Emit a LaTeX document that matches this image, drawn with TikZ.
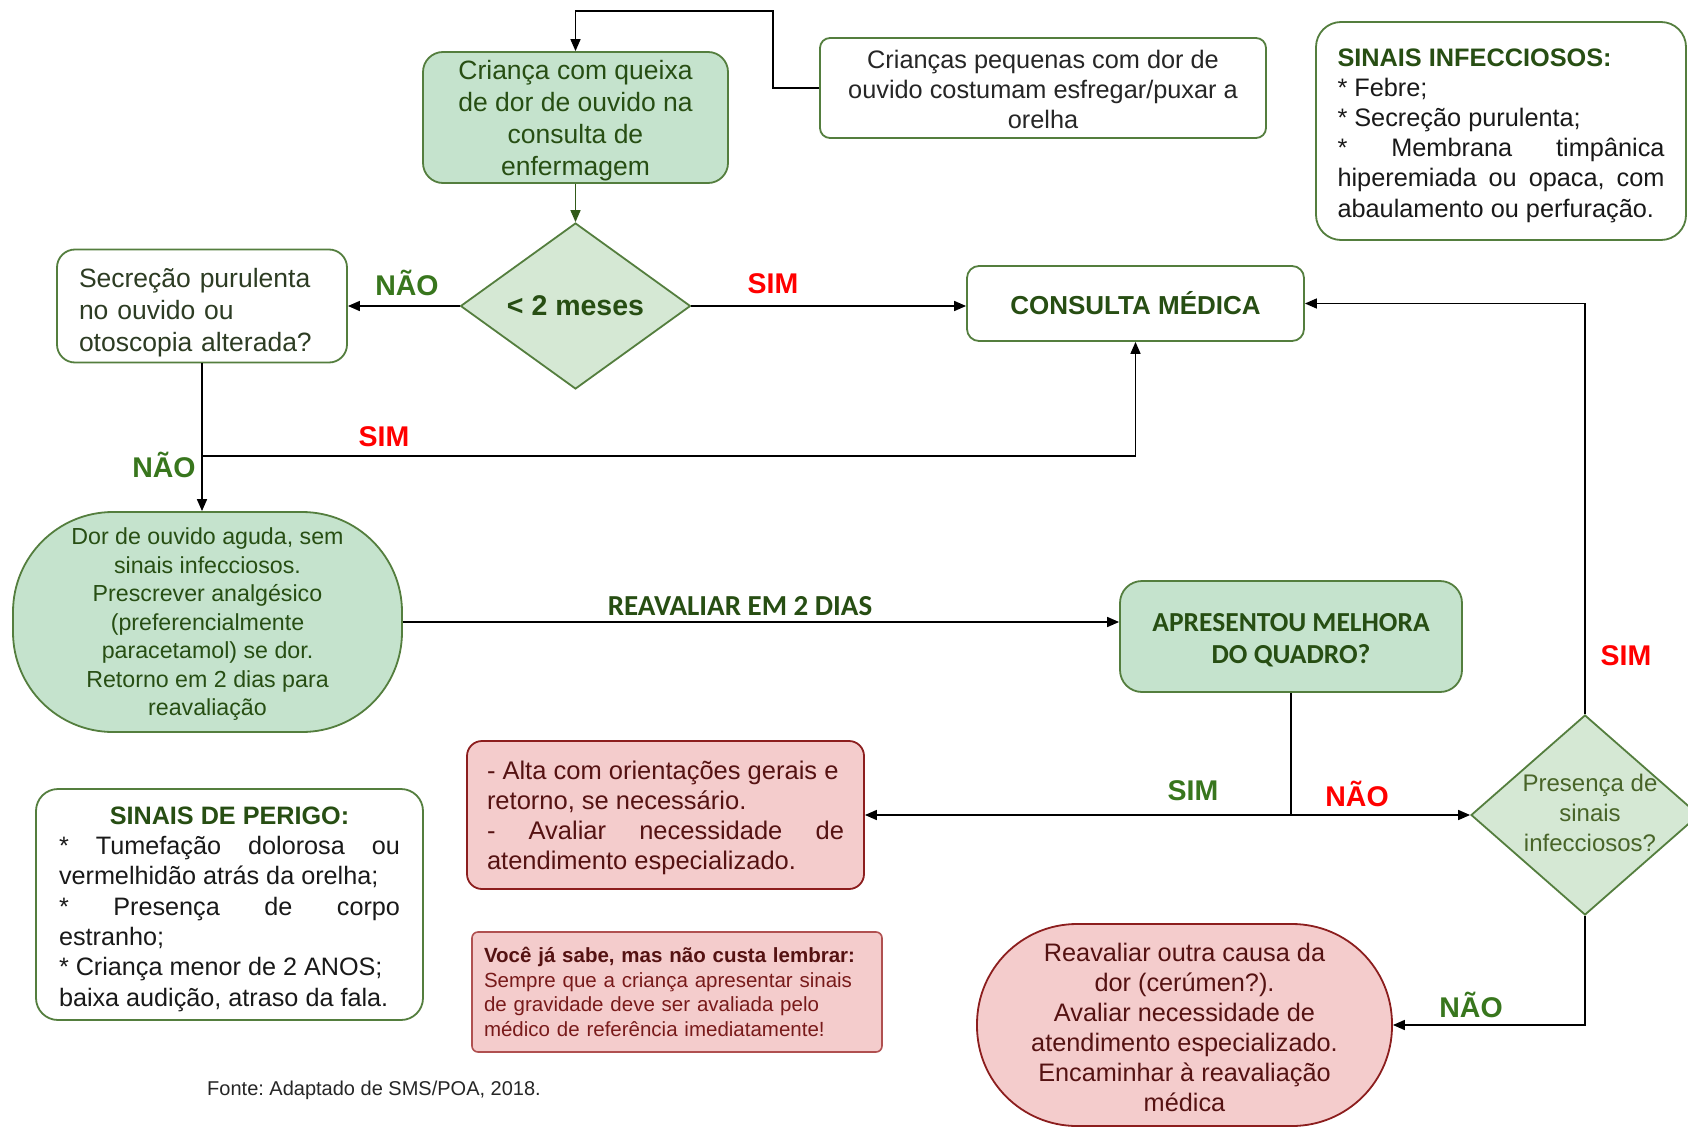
\documentclass[tikz,border=0pt]{standalone}
\usepackage{fontspec}
\setmainfont{Liberation Sans}
\newfontfamily\calibfont{Carlito}
\usetikzlibrary{arrows.meta,shapes.geometric}

\setlength\parindent{0pt}
\hyphenpenalty=10000
\exhyphenpenalty=10000
\tolerance=10000
\hbadness=10000
\frenchspacing

\definecolor{gfill}{RGB}{197,227,205}
\definecolor{gfillL}{RGB}{213,232,212}
\definecolor{gline}{RGB}{84,126,62}
\definecolor{gtext}{RGB}{39,78,19}
\definecolor{garrow}{RGB}{50,90,25}
\definecolor{glabel}{RGB}{56,118,29}
\definecolor{stext}{RGB}{45,60,35}
\definecolor{otext}{RGB}{72,100,40}
\definecolor{pfill}{RGB}{244,204,204}
\definecolor{pline}{RGB}{140,30,30}
\definecolor{pline2}{RGB}{176,80,80}
\definecolor{ptext}{RGB}{85,18,18}
\definecolor{ptext2}{RGB}{120,26,26}
\definecolor{sred}{RGB}{255,0,0}

\newcommand\fsz[2]{\fontsize{#1}{#2}\selectfont}
% invisible strut that lowers a multi-line block a little
\newcommand\dropblk[1]{\rule{0pt}{#1pt}}

\begin{document}
\begin{tikzpicture}[x=1pt,y=-1pt,
  box/.style={draw=gline,line width=1.8pt,rectangle,inner sep=0pt},
  gbox/.style={box,fill=gfill},
  wbox/.style={box,fill=white},
  pbox/.style={draw=pline,line width=1.8pt,rectangle,fill=pfill,inner sep=0pt},
  dia/.style={diamond,aspect=1.4,draw=gline,line width=1.8pt,fill=gfillL,inner sep=0pt},
  conn/.style={line width=1.6pt,-{Triangle[length=12pt,width=10pt]}},
  lbl/.style={font=\bfseries\fsz{28.5}{32},inner sep=0pt},
  yes/.style={lbl,text=sred},
  no/.style={lbl,text=glabel},
]
\clip (0,0) rectangle (1688,1129);
\fill[white] (0,0) rectangle (1688,1129);

% ---------- boxes ----------
\node[gbox,rounded corners=20pt,minimum width=305pt,minimum height=131pt,
      align=center,text=gtext,font=\fsz{26.5}{32}] (b1) at (575.5,117.5)
  {\dropblk{25.7}Criança com queixa\\de dor de ouvido na\\consulta de\\enfermagem};

\node[wbox,rounded corners=10pt,minimum width=446pt,minimum height=100pt,
      align=center,text=black!85,font=\fsz{25.3}{30}] (cp) at (1043,88)
  {\dropblk{21}Crianças pequenas com dor de\\ouvido costumam esfregar/puxar a\\orelha};

\node[wbox,rounded corners=25pt,minimum width=370pt,minimum height=218pt,
      text width=327pt,align=justify,text=black!90,font=\fsz{25.3}{30.2}] (si) at (1501,131)
  {\dropblk{26.7}{\color{gtext}\bfseries SINAIS INFECCIOSOS:}\\{}* Febre;\\{}* Secreção purulenta;\\{}* Membrana timpânica\linebreak hiperemiada ou opaca, com\linebreak abaulamento ou perfuração.};

\node[wbox,rounded corners=18pt,minimum width=290pt,minimum height=113pt,
      text width=246pt,align=left,text=stext,font=\fsz{26.5}{32}] (sec) at (202,306)
  {\dropblk{32.3}Secreção purulenta\\no ouvido ou\\otoscopia alterada?};

\node[dia,minimum width=230pt,minimum height=166pt,text=gtext,
      font=\bfseries\fsz{28.5}{32}] (d1) at (575.5,306) {< 2 meses};

\node[wbox,rounded corners=12pt,minimum width=337pt,minimum height=75pt,
      text=gtext,font=\bfseries\fsz{26}{30}] (cm) at (1135.5,303.5) {CONSULTA MÉDICA};

\node[gbox,rounded corners=100pt,minimum width=389pt,minimum height=220pt,
      align=center,text=gtext,font=\fsz{23.2}{28.5}] (dor) at (207.5,622)
  {\dropblk{21}Dor de ouvido aguda, sem\\sinais infecciosos.\\Prescrever analgésico\\(preferencialmente\\paracetamol) se dor.\\Retorno em 2 dias para\\reavaliação};

\node[gbox,rounded corners=22pt,minimum width=342pt,minimum height=111pt,
      align=center,text=gtext,font=\calibfont\bfseries\fsz{27.5}{32.5}] (ap) at (1291,636.5)
  {\dropblk{25.3}APRESENTOU MELHORA\\DO QUADRO?};

\node[pbox,rounded corners=15pt,minimum width=397pt,minimum height=148pt,
      text width=357pt,align=justify,text=ptext,font=\fsz{25.5}{30}] (alta) at (665.5,815)
  {\dropblk{25.1}- Alta com orientações gerais e\\retorno, se necessário.\\- Avaliar necessidade de\linebreak atendimento especializado.};

\node[dia,minimum width=228pt,minimum height=200pt] (pr) at (1585,815) {};
\node[align=center,text=otext,font=\fsz{24}{30},inner sep=0pt] (prt) at (1590,813)
  {Presença de\\sinais\\infecciosos?};

\node[pbox,rounded corners=100pt,minimum width=415pt,minimum height=202pt,
      align=center,text=ptext,font=\fsz{25.3}{30}] (rv) at (1184.5,1025)
  {\dropblk{24}Reavaliar outra causa da\\dor (cerúmen?).\\Avaliar necessidade de\\atendimento especializado.\\Encaminhar à reavaliação\\médica};

\node[wbox,rounded corners=22pt,minimum width=387pt,minimum height=231pt,
      text width=341pt,align=justify,text=black!90,font=\fsz{25.2}{30.3}] (sp) at (229.5,904.5)
  {\dropblk{26.6}\makebox[341pt]{\color{gtext}\bfseries SINAIS DE PERIGO:}\\{}* Tumefação dolorosa ou\linebreak vermelhidão atrás da orelha;\\{}* Presença de corpo\linebreak estranho;\\{}* Criança menor de 2 ANOS;\\baixa audição, atraso da fala.};

\node[draw=pline2,line width=1.6pt,fill=pfill,rounded corners=6pt,inner sep=0pt,
      minimum width=410pt,minimum height=120pt,text width=386pt,align=left,
      text=ptext2,font=\fsz{20.5}{24.8}] (vc) at (677,992)
  {{\color{ptext}\bfseries Você já sabe, mas não custa lembrar:}\\Sempre que a criança apresentar sinais\\de gravidade deve ser avaliada pelo\\médico de referência imediatamente!};

\node[font=\fsz{20}{24},text=black!85,inner sep=0pt] (fonte) at (374,1090)
  {Fonte: Adaptado de SMS/POA, 2018.};

% ---------- connectors ----------
\coordinate (loop) at (773,11);
\coordinate (jn) at (202,456);
\draw[conn] (cp.west) -| (loop) -| (b1.north);
\draw[conn,draw=garrow,fill=garrow] (b1.south) -- (d1.north);
\draw[conn] (d1.west) -- (d1.west -| sec.east);
\draw[conn] (d1.east) -- (d1.east -| cm.west);
\draw[conn] (sec.south) -- (sec.south |- dor.north);
\draw[conn] (jn) -| (cm.south);
\draw[conn] (dor.east) -- (dor.east -| ap.west);
\draw[conn] (ap.south) |- (alta.east);
\draw[conn] (ap.south) |- (pr.west);
\draw[conn] (pr.north) |- (cm.east);
\draw[conn] (pr.south) |- (rv.east);

% ---------- labels ----------
\node[no]  (l1) at (407,283) {NÃO};
\node[yes] (l2) at (773,284) {SIM};
\node[yes] (l3) at (384,437) {SIM};
\node[no]  (l4) at (164,465) {NÃO};
\node[font=\calibfont\bfseries\fsz{29}{32},text=gtext,inner sep=0pt] (l5) at (740,606) {REAVALIAR EM 2 DIAS};
\node[no]  (l6) at (1193,791) {SIM};
\node[yes] (l7) at (1357,794) {NÃO};
\node[yes] (l8) at (1626,656) {SIM};
\node[no]  (l9) at (1471,1005) {NÃO};
\end{tikzpicture}
\end{document}
